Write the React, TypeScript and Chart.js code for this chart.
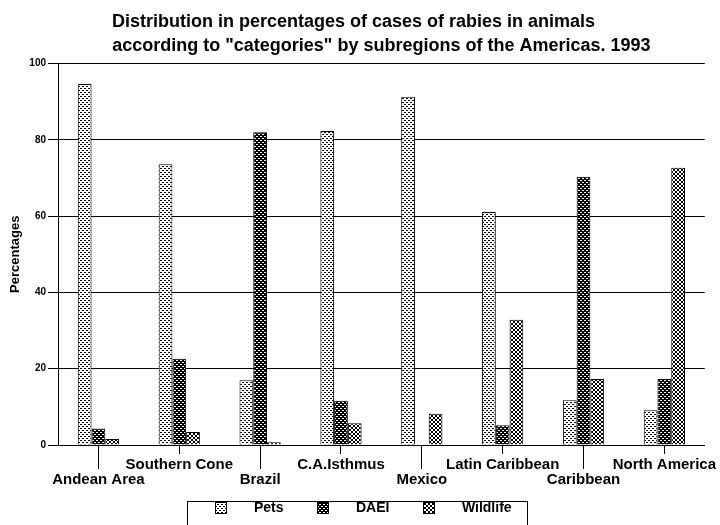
import React, { useEffect, useRef } from 'react';
import { Chart, registerables } from 'chart.js';

Chart.register(...registerables);

const categories = [
  'Andean Area',
  'Southern Cone',
  'Brazil',
  'C.A.Isthmus',
  'Mexico',
  'Latin Caribbean',
  'Caribbean',
  'North America',
];
const seriesNames = ['Pets', 'DAEI', 'Wildlife'];
const petsValues = [94.6, 73.6, 17.0, 82.3, 91.3, 61.1, 11.7, 9.1];
const daeiValues = [4.3, 22.6, 82.0, 11.6, 0, 5.2, 70.3, 17.3];
const wildlifeValues = [1.6, 3.4, 0.7, 5.7, 8.2, 32.8, 17.3, 72.7];
const yMin = 0;
const yMax = 100;
const yStep = 20;
const titleLine1 = 'Distribution in percentages of cases of rabies in animals';
const titleLine2 = 'according to "categories" by subregions of the Americas. 1993';
const yTitle = 'Percentages';

const FONT = "'Liberation Sans', Arial, Helvetica, sans-serif";

// 4x4 stipple tiles (1 = black pixel)
const petsTile = [
  [1, 1, 0, 0],
  [0, 0, 0, 0],
  [0, 0, 1, 1],
  [0, 0, 0, 0],
];
const daeiTile = [
  [0, 0, 1, 1],
  [1, 1, 1, 1],
  [1, 1, 0, 0],
  [1, 1, 1, 1],
];
const wildlifeTile = [
  [1, 0, 0, 1],
  [0, 1, 1, 0],
  [0, 1, 1, 0],
  [1, 0, 0, 1],
];

const LEGEND_BOX_W = 51.5;

function makeTile(tile: number[][]): HTMLCanvasElement {
  const c = document.createElement('canvas');
  c.width = 4;
  c.height = 4;
  const g = c.getContext('2d')!;
  g.fillStyle = '#fff';
  g.fillRect(0, 0, 4, 4);
  g.fillStyle = '#000';
  tile.forEach((row, y) =>
    row.forEach((v, x) => {
      if (v) g.fillRect(x, y, 1, 1);
    })
  );
  return c;
}

function makeLegendIcon(tileCanvas: HTMLCanvasElement): HTMLCanvasElement {
  const c = document.createElement('canvas');
  c.width = 52;
  c.height = 12;
  const g = c.getContext('2d')!;
  const pat = g.createPattern(tileCanvas, 'repeat')!;
  g.fillStyle = pat;
  g.fillRect(20, 0, 12, 12);
  g.strokeStyle = '#000';
  g.lineWidth = 1;
  g.strokeRect(20.5, 0.5, 11, 11);
  return c;
}

export default function App() {
  const canvasRef = useRef<HTMLCanvasElement>(null);

  useEffect(() => {
    const canvas = canvasRef.current!;
    const ctx = canvas.getContext('2d')!;
    const tiles = [makeTile(petsTile), makeTile(daeiTile), makeTile(wildlifeTile)];
    const patterns = tiles.map((t) => ctx.createPattern(t, 'repeat')!);
    const icons = tiles.map((t) => makeLegendIcon(t));
    const values = [petsValues, daeiValues, wildlifeValues];

    const align = (p: number) => Math.round(p - 0.5) + 0.5;

    const decorPlugin = {
      id: 'decor',
      beforeDraw(chart: any) {
        chart.ctx.imageSmoothingEnabled = false;
      },
      afterDraw(chart: any) {
        const g = chart.ctx;
        const xs = chart.scales.x;
        g.save();
        g.strokeStyle = '#000';
        g.lineWidth = 1;
        categories.forEach((_, i) => {
          if (i % 2 === 0) {
            const px = align(xs.getPixelForTick(i));
            g.beginPath();
            g.moveTo(px, xs.top);
            g.lineTo(px, xs.top + 24);
            g.stroke();
          }
        });
        const hb = chart.legend && chart.legend.legendHitBoxes;
        if (hb && hb.length) {
          const last = hb[hb.length - 1];
          const left = Math.round(hb[0].left - 8) + 0.5;
          const right = Math.round(last.left + last.width + 15) + 0.5;
          const top = Math.round(hb[0].top) + 0.5;
          g.strokeRect(left, top, right - left, 40);
        }
        g.restore();
      },
    };

    const chart = new Chart(canvas, {
      type: 'bar',
      data: {
        labels: categories,
        datasets: seriesNames.map((name, i) => ({
          label: name,
          data: values[i],
          backgroundColor: patterns[i],
          borderColor: '#000',
          borderWidth: 1,
          borderSkipped: 'start',
          categoryPercentage: 0.51,
          barPercentage: 1.0,
        })),
      },
      options: {
        responsive: false,
        animation: false,
        devicePixelRatio: 1,
        layout: { padding: { left: 0, right: 13, top: 0, bottom: 0 } },
        font: { family: FONT },
        plugins: {
          title: {
            display: true,
            text: titleLine1,
            color: '#000',
            fullSize: true,
            font: { family: FONT, size: 18, weight: 'bold', lineHeight: 23.5 / 18 },
            padding: { top: 10.75, bottom: 0 },
          },
          subtitle: {
            display: true,
            text: titleLine2,
            color: '#000',
            fullSize: false,
            font: { family: FONT, size: 18, weight: 'bold', lineHeight: 23.5 / 18 },
            padding: { top: 0, bottom: 5.75 },
          },
          legend: {
            display: true,
            position: 'bottom',
            labels: {
              usePointStyle: true,
              pointStyleWidth: LEGEND_BOX_W,
              padding: 14,
              color: '#000',
              font: { family: FONT, size: 14, weight: 'bold' },
              generateLabels: (c: any) => {
                const items = (Chart.defaults.plugins.legend.labels as any).generateLabels(c);
                return items.map((it: any, i: number) => ({ ...it, pointStyle: icons[i] }));
              },
            },
          },
          tooltip: { enabled: false },
        },
        scales: {
          x: {
            type: 'category',
            offset: true,
            afterFit: (s: any) => {
              s.height = 42;
            },
            grid: {
              display: true,
              drawOnChartArea: false,
              drawTicks: true,
              tickLength: 9,
              offset: false,
              color: '#000',
              lineWidth: 1,
            },
            border: { display: true, color: '#000', width: 1 },
            ticks: {
              autoSkip: false,
              maxRotation: 0,
              minRotation: 0,
              padding: 3,
              color: '#000',
              font: { family: FONT, size: 15, weight: 'bold', lineHeight: 15.5 / 15 },
              callback: (_v: any, i: number) => (i % 2 === 0 ? ['', categories[i]] : [categories[i]]),
            },
          },
          y: {
            min: yMin,
            max: yMax,
            afterFit: (s: any) => {
              s.width = 58;
            },
            grid: {
              color: '#000',
              lineWidth: 1,
              tickLength: 10,
              drawTicks: true,
            },
            border: { display: true, color: '#000', width: 1 },
            ticks: {
              stepSize: yStep,
              padding: 2,
              color: '#000',
              font: { family: FONT, size: 10, weight: 'bold' },
            },
            title: {
              display: true,
              text: yTitle,
              color: '#000',
              font: { family: FONT, size: 13, weight: 'bold' },
              padding: { top: 8, bottom: 0 },
            },
          },
        },
      },
      plugins: [decorPlugin],
    } as any);

    return () => chart.destroy();
  }, []);

  return (
    <div style={{ position: 'fixed', left: 0, top: 0, width: 720, height: 525, background: '#fff' }}>
      <canvas ref={canvasRef} width={720} height={525} style={{ display: 'block', width: 720, height: 525 }} />
    </div>
  );
}
